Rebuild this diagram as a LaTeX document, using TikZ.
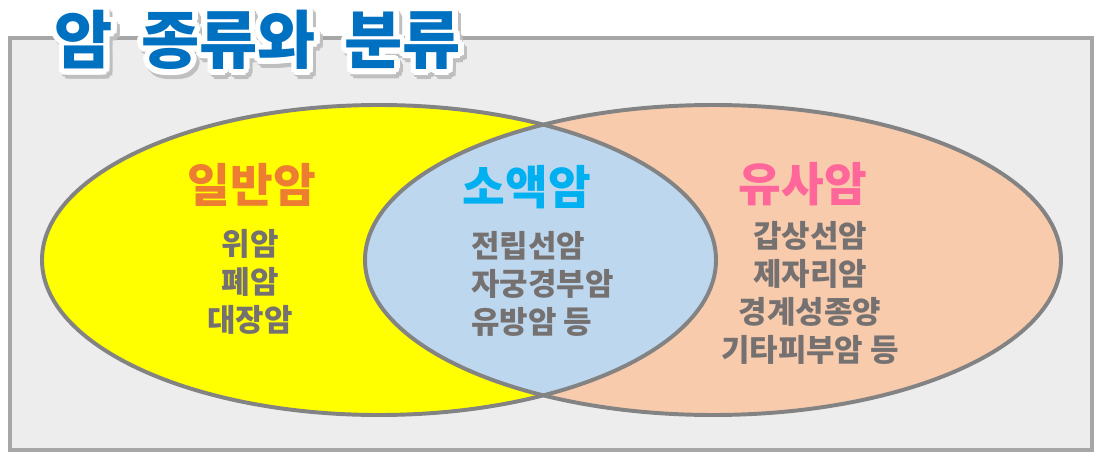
\documentclass[tikz,border=0pt]{standalone}
\usepackage{fontspec}
\setmainfont{Noto Sans CJK KR}
\usepackage{contour}
\usetikzlibrary{positioning}
\definecolor{framegray}{HTML}{A6A6A6}
\definecolor{framefill}{HTML}{EDEDED}
\definecolor{edgegray}{HTML}{838383}
\definecolor{venyellow}{HTML}{FFFF00}
\definecolor{peach}{HTML}{F8CBAD}
\definecolor{lightblue}{HTML}{BDD7EE}
\definecolor{textgray}{HTML}{767171}
\definecolor{headorange}{HTML}{ED7D31}
\definecolor{headblue}{HTML}{00B0F0}
\definecolor{headpink}{HTML}{FF6699}
\definecolor{titleblue}{HTML}{0070C0}
\tikzset{
    Head/.style = {font=\fontsize{33}{33}\selectfont\bfseries, inner sep=0pt},
    Item/.style = {font=\fontsize{22}{22}\selectfont\bfseries, text=textgray, inner sep=0pt},
    Venn/.style = {draw=edgegray, line width=2.8pt},
    Title/.style = {font=\fontsize{45}{45}\selectfont\bfseries, inner sep=0pt}
}

\begin{document}
\begin{tikzpicture}[x=0.025cm,y=-0.025cm]
    \useasboundingbox (0,0) rectangle (1104,460);
    \draw[draw=framegray, fill=framefill, line width=2.5pt] (10,38) rectangle (1092,450);
    % venn
    \fill[venyellow] (379,260) ellipse [x radius=337, y radius=155];
    \fill[peach] (713,260) ellipse [x radius=348, y radius=155];
    \begin{scope}
        \clip (379,260) ellipse [x radius=337, y radius=155];
        \fill[lightblue] (713,260) ellipse [x radius=348, y radius=155];
    \end{scope}
    \draw[Venn] (379,260) ellipse [x radius=337, y radius=155];
    \draw[Venn] (713,260) ellipse [x radius=348, y radius=155];
    % title
    \contourlength{4pt}
    \node[Title, text=black!25] (shadow) at (261,47) {\contour{black!25}{암\hspace{0.45em}종류와\hspace{0.45em}분류}};
    \node[Title, text=titleblue] (title) at (258,43) {\contour{white}{암\hspace{0.45em}종류와\hspace{0.45em}분류}};
    % heads
    \node[Head, text=headorange] (general) at (252,185) {일반암};
    \node[Head, text=headblue] (minor) at (527,187) {소액암};
    \node[Head, text=headpink] (similar) at (803,184) {유사암};
    % items
    \foreach \t [count=\i] in {위암,폐암,대장암}
        {\node[Item] (g\i) at (250,206+38*\i) {\t};}
    \foreach \t [count=\i] in {전립선암,자궁경부암,유방암 등}
        {\node[Item, anchor=west] (m\i) at (471,208+38*\i) {\t};}
    \foreach \t [count=\i] in {갑상선암,제자리암,경계성종양,기타피부암 등}
        {\node[Item] (s\i) at (810,198+38*\i) {\t};}
\end{tikzpicture}
\end{document}
